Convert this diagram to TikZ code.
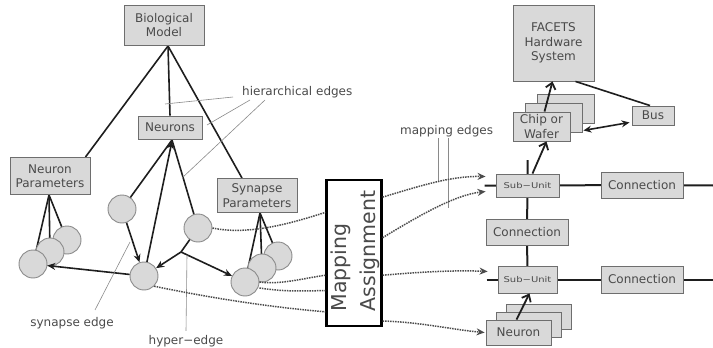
\documentclass[tikz,border=0pt]{standalone}
\usepackage{fontspec}
\setmainfont{DejaVu Sans}
\usetikzlibrary{arrows.meta,calc}
\pgfdeclarelayer{bg}
\pgfsetlayers{bg,main}
\definecolor{boxfill}{HTML}{D9D9D9}
\definecolor{boxline}{HTML}{6E6E6E}
\definecolor{txt}{HTML}{4A4A4A}
\definecolor{edge}{HTML}{1E1E1E}
\definecolor{lbl}{HTML}{8A8A8A}
\begin{document}
\begin{tikzpicture}[x=1pt,y=-1pt,
 box/.style={draw=boxline,fill=boxfill,line width=0.9pt,inner sep=0pt,align=center,text=txt,font=\fontsize{12}{14.5}\selectfont},
 nrn/.style={circle,draw=boxline!80,fill=boxfill,line width=0.9pt,minimum size=28pt,inner sep=0pt},
 hier/.style={draw=edge,line width=1.6pt},
 arr/.style={draw=edge,line width=1.6pt,-{Stealth[length=8pt,width=7pt]}},
 dblarr/.style={draw=edge,line width=1.6pt,{Stealth[length=8pt,width=7pt]}-{Stealth[length=8pt,width=7pt]}},
 barb/.style={draw=edge,line width=1.8pt,-{Straight Barb[length=6pt,width=10pt]}},
 bus/.style={draw=edge,line width=2pt},
 lblline/.style={draw=lbl,line width=0.6pt},
 lbltext/.style={text=txt,font=\fontsize{12}{14}\selectfont,inner sep=0pt},
 mapl/.style={draw=edge!80,line width=1.5pt,densely dotted},
 maparr/.style={mapl,-{Stealth[length=8pt,width=7pt]}},
 subu/.style={box,font=\fontsize{8}{10}\selectfont}
]
\useasboundingbox (0,0) rectangle (713,348);

% ---------- left: biological model ----------
\node[box,minimum width=80pt,minimum height=40pt] (bio) at (164,25) {Biological\\Model};
\node[box,minimum width=64pt,minimum height=23pt] (neurons) at (170,127.5) {Neurons};
\node[box,minimum width=80pt,minimum height=37pt] (nparams) at (50,176) {Neuron\\Parameters};
\node[box,minimum width=80pt,minimum height=34pt] (sparams) at (257,195.5) {Synapse\\Parameters};

\coordinate (bo) at (168,46);
\coordinate (nb) at (172,140);
\coordinate (hj) at (181,252);

\node[nrn] (c1) at (122,209) {};
\node[nrn] (c2) at (198,228) {};
\node[nrn] (c3) at (144,276) {};
\node[nrn] (n1) at (67,240) {};
\node[nrn] (n2) at (50,252) {};
\node[nrn] (n3) at (33,264) {};
\node[nrn] (s1) at (278,256) {};
\node[nrn] (s2) at (262,268) {};
\node[nrn] (s3) at (245,282) {};

\begin{pgfonlayer}{bg}
 \draw[hier] (bo) -- ([xshift=-5pt]nparams.north east);
 \draw[hier] (bo) -- (neurons.north);
 \draw[hier] (bo) -- ([xshift=-15pt]sparams.north);
 \draw[hier] (c1.center) -- (nb);
 \draw[hier] (c2.center) -- (nb);
 \draw[hier] ([xshift=-1pt]nparams.south) -- (n1.center);
 \draw[hier] ([xshift=-1pt]nparams.south) -- (n2.center);
 \draw[hier] ([xshift=-1pt]nparams.south) -- (n3.center);
 \draw[hier] ([xshift=3pt]sparams.south) -- (s1.center);
 \draw[hier] ([xshift=3pt]sparams.south) -- (s2.center);
 \draw[hier] ([xshift=3pt]sparams.south) -- (s3.center);
 \draw[hier] (c2.center) -- (hj);
\end{pgfonlayer}
\draw[arr] (c3) -- ([yshift=-1pt]nb);
\draw[arr] (c3) -- (n3);
\draw[arr] (c1) -- (c3);
\draw[arr] (hj) -- (c3);
\draw[arr] (hj) -- (s3);

% labels
\node[lbltext,anchor=west] (hlbl) at (242,92) {hierarchical edges};
\draw[lblline] ([xshift=-9pt,yshift=-5pt]hlbl.west) -- (165,104);
\draw[lblline] ([xshift=8pt,yshift=-8pt]hlbl.west) -- (207,125);
\draw[lblline] ([xshift=23pt,yshift=-8pt]hlbl.west) -- (182,178);
\node[lbltext] (selbl) at (72,323) {synapse edge};
\draw[lblline] ([xshift=23pt,yshift=7pt]selbl.north) -- (130,242);
\node[lbltext] (helbl) at (186,341) {hyper−edge};
\draw[lblline] ([yshift=4pt]helbl.north) -- (187,255);

% ---------- mapping ----------
\node[draw=black,fill=white,line width=2.2pt,minimum width=55pt,minimum height=146pt,inner sep=0pt] (map) at (354,253) {};
\node[rotate=90,align=left,text=txt,font=\fontsize{20.5}{29}\selectfont] (maptext) at (355,251) {Mapping\\Assignment};

\coordinate (mlA) at ($(map.north west)!0.226!(map.south west)$);
\coordinate (mlB) at ($(map.north west)!0.65!(map.south west)$);
\coordinate (mlC) at ($(map.north west)!0.753!(map.south west)$);
\coordinate (mlD) at ($(map.north west)!0.897!(map.south west)$);
\coordinate (mrA) at ($(map.north east)!0.123!(map.south east)$);
\coordinate (mrB) at ($(map.north east)!0.397!(map.south east)$);
\coordinate (mrC) at ($(map.north east)!0.65!(map.south east)$);
\coordinate (mrD) at ($(map.north east)!0.959!(map.south east)$);

\draw[mapl] (c2.east) .. controls (250,236) and (295,222) .. (mlA);
\draw[mapl] (s3.east) .. controls (280,285) and (305,278) .. (mlB);
\draw[mapl] ([yshift=-6pt]s3.east) .. controls (285,292) and (305,291) .. (mlC);
\draw[mapl] (c3.south east) .. controls (220,300) and (280,308) .. (mlD);

\node[lbltext,anchor=west] (mlbl) at (400,131) {mapping edges};
\draw[lblline] (438,138) -- (438,181);
\draw[lblline] (448,138) -- (448,208);

% ---------- right: hardware ----------
\node[box,minimum width=81pt,minimum height=76pt] (facets) at (553.5,43) {FACETS\\Hardware\\System};
\node[box,minimum width=57pt,minimum height=29pt] (chipc) at (565.5,108.5) {};
\node[box,minimum width=57pt,minimum height=29pt] (chipb) at (553.5,117.5) {};
\node[box,minimum width=57pt,minimum height=29pt] (chip) at (541.5,126.5) {Chip or\\Wafer};
\node[box,minimum width=42pt,minimum height=19pt] (bus) at (653,115.5) {Bus};

\node[subu,minimum width=63pt,minimum height=23pt] (su1) at (527.5,185.5) {\scalebox{1.25}[1]{Sub−Unit}};
\node[box,minimum width=82pt,minimum height=26pt] (conn1) at (642,185) {Connection};
\node[box,minimum width=82pt,minimum height=26pt] (connm) at (527,232) {Connection};
\node[subu,minimum width=59pt,minimum height=27pt] (su2) at (527.5,279.5) {\scalebox{1.25}[1]{Sub−Unit}};
\node[box,minimum width=82pt,minimum height=27pt] (conn2) at (642,279.5) {Connection};

\node[box,minimum width=65pt,minimum height=25pt] (neurc) at (538.5,316.5) {};
\node[box,minimum width=65pt,minimum height=25pt] (neurb) at (528.5,324.5) {};
\node[box,minimum width=65pt,minimum height=25pt] (neur) at (518.5,332.5) {Neuron};

\coordinate (e1) at (713,185.5);
\coordinate (e2) at (713,279.5);
\coordinate (vt) at (527.5,160);
\begin{pgfonlayer}{bg}
 \draw[bus] ($(su1.west)+(-11,0)$) -- (su1.center) -- (conn1.center) -- (e1);
 \draw[bus] ($(su2.west)+(-11,0)$) -- (su2.center) -- (conn2.center) -- (e2);
 \draw[bus] (vt) -- (su1.center) -- (connm.center) -- (su2.center);
\end{pgfonlayer}

\draw[barb] ([xshift=5pt]su1.north) -- ([xshift=5pt]chip.south);
\draw[barb] ([xshift=3pt]chip.north) -- ([xshift=-1pt]facets.south);
\draw[barb] ([xshift=-2pt]neur.north) -- ([xshift=2pt]su2.south);
\draw[hier] ([xshift=22pt]facets.south) -- ([xshift=-3pt]bus.north);
\draw[dblarr] ($(chipb.south east)+(1,-2)$) -- ($(bus.south west)+(-2,-3)$);

\draw[maparr] (mrA) .. controls (420,186) and (450,176) .. ($(su1.west)+(-10,-9)$);
\draw[maparr] (mrB) .. controls (420,215) and (455,195) .. ($(su1.west)+(-10,6)$);
\draw[maparr] (mrC) .. controls (420,272) and (455,270) .. ($(su2.west)+(-10,-8)$);
\draw[maparr] (mrD) .. controls (420,322) and (455,330) .. ($(neur.west)+(-1,0)$);
\end{tikzpicture}
\end{document}
